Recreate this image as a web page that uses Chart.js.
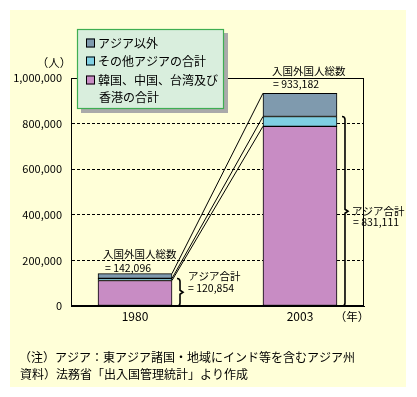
<!DOCTYPE html>
<html><head><meta charset="utf-8">
<script src="https://cdn.jsdelivr.net/npm/chart.js@4/dist/chart.umd.min.js"></script>
<style>html,body{margin:0;padding:0;background:#fff;}canvas{display:block;}</style>
</head><body>
<canvas id="c" width="417" height="397"></canvas>
<script>
const categories = ['1980', '2003'];
const koreaChinaTaiwanHK = [112000, 788000];
const otherAsia = [8854, 43111];
const nonAsia = [21242, 102071];
const asiaTotal = [120854, 831111];
const foreignTotal = [142096, 933182];
const seriesLabels = ['韓国、中国、台湾及び香港の合計', 'その他アジアの合計', 'アジア以外'];
const legendLines = [['アジア以外'], ['その他アジアの合計'], ['韓国、中国、台湾及び', '香港の合計']];
const colors = ['#c88cc4', '#7fcfe3', '#7f9aae'];
const legendColors = ['#7f9aae', '#7fcfe3', '#c88cc4'];
const totalLabel = '入国外国人総数';
const asiaLabel = 'アジア合計';
const yUnit = '（人）';
const xUnit = '（年）';
const notes = ['（注）アジア：東アジア諸国・地域にインド等を含むアジア州', '資料）法務省「出入国管理統計」より作成'];

const FAM = '"Noto Sans CJK JP", "DejaVu Sans", sans-serif';
const fmt = v => v.toLocaleString('en-US');

const mk = (label, arr, color) => ({
  label, data: arr.map((v, i) => ({x: i, y: v})),
  backgroundColor: color, borderColor: '#000', borderWidth: 1, borderSkipped: false,
  barThickness: 74
});

function brace(c, x, top, bot, mid) {
  c.beginPath();
  c.moveTo(x - 3, top);
  c.quadraticCurveTo(x, top, x, top + 3);
  c.lineTo(x, mid - 2);
  c.lineTo(x + 3, mid);
  c.lineTo(x, mid + 2);
  c.lineTo(x, bot - 3);
  c.quadraticCurveTo(x, bot, x - 3, bot);
  c.stroke();
}

const deco = {
  id: 'deco',
  beforeDraw(chart) {
    const c = chart.ctx;
    c.save();
    c.fillStyle = '#fff'; c.fillRect(0, 0, 417, 397);
    c.fillStyle = '#ffffd8'; c.fillRect(10, 10, 396, 377);
    c.restore();
  },
  beforeDatasetsDraw(chart) {
    const c = chart.ctx, a = chart.chartArea;
    c.save();
    c.strokeStyle = '#000'; c.lineWidth = 1;
    c.strokeRect(Math.round(a.left) + 0.5, Math.round(a.top) + 0.5, Math.round(a.right - a.left) - 1, Math.round(a.bottom - a.top) - 1);
    c.restore();
  },
  afterDatasetsDraw(chart) {
    const c = chart.ctx;
    const y = chart.scales.y;
    c.save();
    c.strokeStyle = '#000'; c.lineWidth = 1;
    for (let k = 0; k < 3; k++) {
      const m = chart.getDatasetMeta(k);
      const b0 = m.data[0], b1 = m.data[1];
      c.beginPath();
      c.moveTo(b0.x + b0.width / 2, b0.y);
      c.lineTo(b1.x - b1.width / 2, b1.y);
      c.stroke();
    }
    c.lineWidth = 1.6;
    const bars = chart.getDatasetMeta(0).data;
    const texts = [];
    for (let i = 0; i < 2; i++) {
      const bx = bars[i].x + bars[i].width / 2 + 8;
      const top = y.getPixelForValue(asiaTotal[i]);
      const bot = y.getPixelForValue(0);
      const mid = (top + bot) / 2;
      brace(c, bx, top, bot, mid);
      const tTop = y.getPixelForValue(foreignTotal[i]);
      const left = bars[i].x - bars[i].width / 2;
      if (i === 0) {
        texts.push([asiaLabel, bx + 8, top - 2], ['= ' + fmt(asiaTotal[i]), bx + 8, top + 10]);
        texts.push([totalLabel, left + 5, tTop - 20], ['= ' + fmt(foreignTotal[i]), left + 7, tTop - 6]);
      } else {
        texts.push([asiaLabel, bx + 7, mid], ['= ' + fmt(asiaTotal[i]), bx + 8, mid + 11]);
        texts.push([totalLabel, left + 9, tTop - 22], ['= ' + fmt(foreignTotal[i]), left + 10, tTop - 9]);
      }
    }
    c.fillStyle = '#000';
    c.font = '10.5px ' + FAM;
    c.textAlign = 'left'; c.textBaseline = 'middle';
    texts.forEach(t => c.fillText(t[0], t[1], t[2]));
    c.restore();
  },
  afterDraw(chart) {
    const c = chart.ctx;
    c.save();
    const lx = 77, ly = 29, lw = 147, lh = 80;
    c.fillStyle = '#aaaaaa'; c.fillRect(lx + 4, ly + 4, lw, lh);
    c.fillStyle = '#d9eedd'; c.fillRect(lx, ly, lw, lh);
    c.strokeStyle = '#3fae52'; c.lineWidth = 1.2;
    c.strokeRect(lx + 0.5, ly + 0.5, lw - 1, lh - 1);
    const tops = [38.5, 56.5, 75.5];
    c.font = '12px ' + FAM;
    c.textAlign = 'left'; c.textBaseline = 'middle';
    for (let i = 0; i < 3; i++) {
      c.fillStyle = legendColors[i];
      c.fillRect(86, tops[i], 9, 9);
      c.strokeStyle = '#000'; c.lineWidth = 1;
      c.strokeRect(86.5, tops[i] + 0.5, 8, 8);
      c.fillStyle = '#000';
      legendLines[i].forEach((t, j) => c.fillText(t, j === 0 ? 98 : 99, tops[i] + 5 + j * 17));
    }
    c.font = '11.5px ' + FAM;
    c.textAlign = 'center';
    c.fillText(yUnit, 54, 63);
    c.fillText(xUnit, 352, 317);
    c.font = '12px ' + FAM;
    c.textAlign = 'left';
    c.fillText(notes[0], 19, 357);
    c.fillText(notes[1], 20, 374);
    c.restore();
  }
};

new Chart(document.getElementById('c'), {
  type: 'bar',
  data: {
    datasets: [
      mk(seriesLabels[0], koreaChinaTaiwanHK, colors[0]),
      mk(seriesLabels[1], otherAsia, colors[1]),
      mk(seriesLabels[2], nonAsia, colors[2])
    ]
  },
  options: {
    responsive: false, animation: false, events: [],
    layout: {padding: {left: 10, top: 78, right: 53, bottom: 71}},
    plugins: {legend: {display: false}, tooltip: {enabled: false}},
    scales: {
      x: {
        type: 'linear', min: -0.388, max: 1.388, stacked: true, offset: false,
        afterBuildTicks: s => { s.ticks = categories.map((c, i) => ({value: i})); },
        afterFit: s => { s.height = 20; },
        ticks: {callback: v => categories[v] ?? '', font: {size: 12, family: FAM}, color: '#000', padding: 3, maxRotation: 0, autoSkip: false},
        grid: {display: false, drawTicks: false},
        border: {color: '#000'}
      },
      y: {
        stacked: true, min: 0, max: 1000000,
        afterFit: s => { s.width = 61; },
        ticks: {stepSize: 200000, callback: v => fmt(v), padding: 9, color: '#000', font: {size: 11, family: FAM}},
        grid: {color: '#000', drawTicks: false, lineWidth: 1},
        border: {color: '#000', dash: [3, 2]}
      }
    }
  },
  plugins: [deco]
});
</script>
</body></html>
